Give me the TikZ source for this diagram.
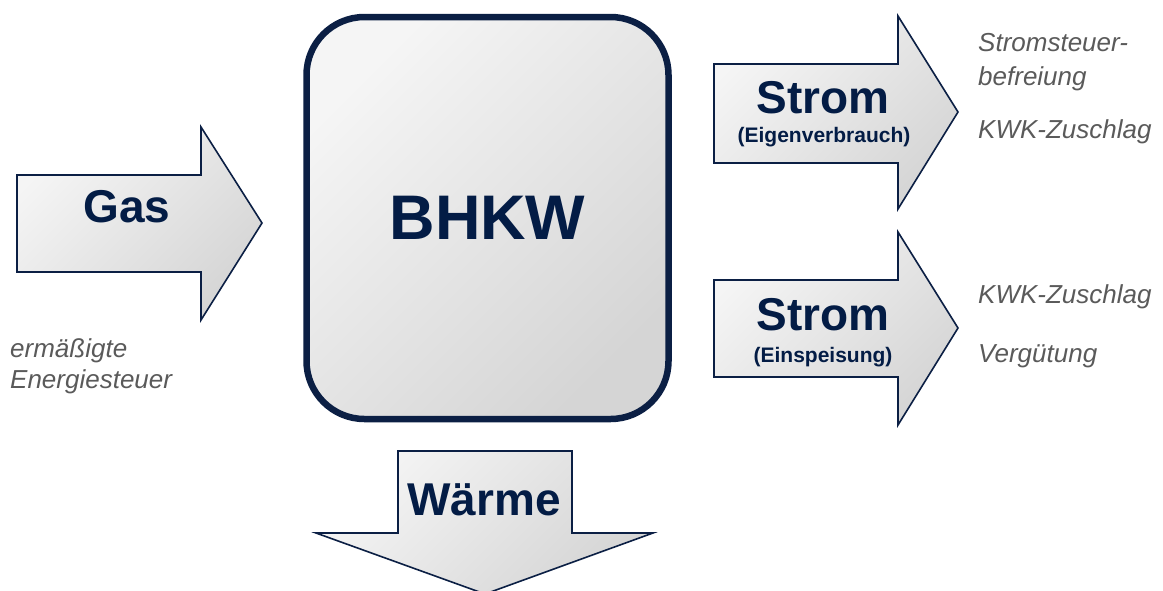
\documentclass[tikz,border=0pt]{standalone}
\usepackage{fontspec}
\setmainfont{Liberation Sans}
\definecolor{navy}{HTML}{0B1F44}
\definecolor{txtnavy}{HTML}{031C45}
\definecolor{gL}{HTML}{F5F5F5}
\definecolor{gD}{HTML}{D5D5D5}
\definecolor{note}{HTML}{5A5A5A}
\begin{document}
\begin{tikzpicture}[x=1pt,y=-1pt,
  flow/.style={draw=navy, line width=1.6pt, line join=miter, top color=gL, bottom color=gD, shading angle=45},
  box/.style={draw=navy, line width=6.5pt, top color=gL, bottom color=gD, shading angle=45, rounded corners=58pt, inner sep=0pt},
  big/.style={text=txtnavy, font=\fontsize{46}{46}\selectfont\bfseries, inner sep=0pt, anchor=base},
  small/.style={text=txtnavy, font=\fontsize{21}{21}\selectfont\bfseries, inner sep=0pt, anchor=base},
  noteitem/.style={text=note, font=\fontsize{26}{26}\selectfont\itshape, inner sep=0pt, anchor=base west}]
\useasboundingbox (0,0) rectangle (1163,590);
\clip (0,0) rectangle (1163,590);
% Gas arrow
\path[flow] (17,175) -- (201,175) -- (201,127) -- (262,223) -- (201,320) -- (201,272) -- (17,272) -- cycle;
\node[big] (gas) at (127,222) {Gas};
\node[noteitem] (n1) at (10,357) {ermäßigte};
\node[noteitem] (n2) at (10,388) {Energiesteuer};
% BHKW
\node[box, minimum width=362pt, minimum height=402pt, text=txtnavy, font=\fontsize{63}{63}\selectfont\bfseries] (bhkw) at (487.5,218) {BHKW};
% Strom 1
\path[flow] (714,64) -- (898,64) -- (898,16) -- (958,112) -- (898,209) -- (898,163) -- (714,163) -- cycle;
\node[big] (s1) at (823,113) {Strom};
\node[small] (s1b) at (824,142) {(Eigenverbrauch)};
\node[noteitem] (n3) at (978,51) {Stromsteuer-};
\node[noteitem] (n4) at (978,85) {befreiung};
\node[noteitem] (n5) at (978,138) {KWK-Zuschlag};
% Strom 2
\path[flow] (714,280) -- (898,280) -- (898,232) -- (958,328) -- (898,425) -- (898,377) -- (714,377) -- cycle;
\node[big] (s2) at (823,330) {Strom};
\node[small] (s2b) at (823,362) {(Einspeisung)};
\node[noteitem] (n6) at (978,303) {KWK-Zuschlag};
\node[noteitem] (n7) at (978,362) {Vergütung};
% Waerme
\path[flow] (398,451) -- (572,451) -- (572,533) -- (653,533) -- (485,594) -- (316,533) -- (398,533) -- cycle;
\node[big] (w) at (484,515) {Wärme};
\end{tikzpicture}
\end{document}
